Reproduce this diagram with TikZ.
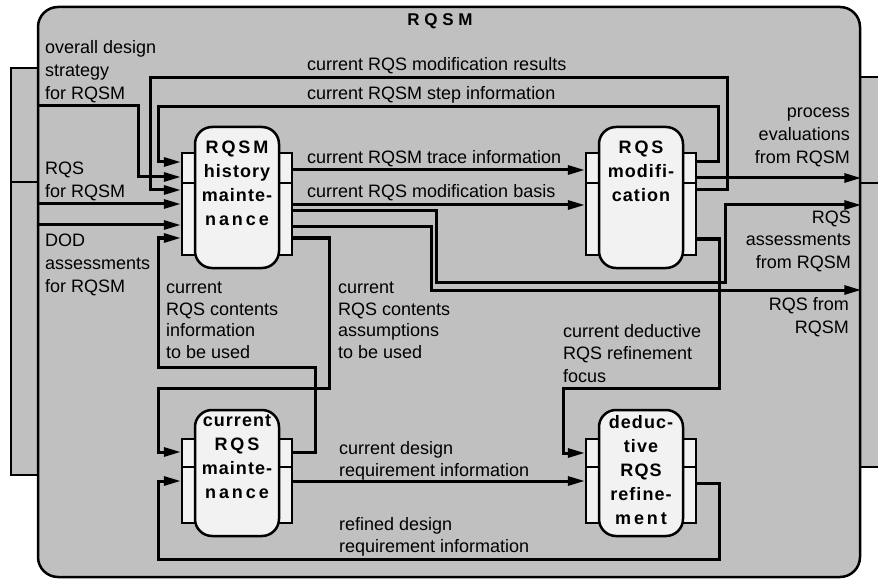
\documentclass[tikz,border=0pt]{standalone}
\usepackage{fontspec}
\setmainfont{Liberation Sans}
\newfontfamily\boxfont[LetterSpace=6]{Liberation Sans}
\usetikzlibrary{arrows.meta,positioning}
\definecolor{panel}{RGB}{192,192,192}
\definecolor{paper}{RGB}{242,242,242}
\newcommand{\spread}[1]{{\addfontfeature{LetterSpace=16}#1}}

\begin{document}
\begin{tikzpicture}[x=1pt,y=-1pt,
  flow/.style={line width=3pt,-{Triangle[length=17pt,width=9pt]}},
  frame node/.style={draw,fill=panel,line width=2.5pt,rounded corners=20pt,inner sep=0pt},
  act node/.style={draw,fill=paper,line width=2.5pt,rounded corners=17pt,minimum width=84pt,inner sep=0pt},
  tab node/.style={draw,fill=paper,line width=2.3pt,minimum width=110pt,inner sep=0pt},
  act text/.style={font=\boxfont\bfseries\fontsize{18}{24}\selectfont,align=center,inner sep=0pt},
  flow text/.style={font=\fontsize{18}{21.5}\selectfont,align=left,inner sep=0pt,anchor=base west},
  port text/.style={font=\fontsize{18}{23}\selectfont,inner sep=0pt},
  side tab/.style={draw,fill=panel,line width=2pt}]
\useasboundingbox (0,0) rectangle (878,580);

% tabs of the parent box
\draw[side tab] (11,68) rectangle (38,182);
\draw[side tab] (11,182) rectangle (38,475);
\draw[side tab] (860,77) rectangle (892,183);
\draw[side tab] (860,183) rectangle (892,467);

\node[frame node,minimum width=822pt,minimum height=570pt] (rqsm) at (449,292) {};
\node[act text,font=\boxfont\bfseries\fontsize{17}{20}\selectfont] (title) at (440,21) {\addfontfeature{LetterSpace=28}RQSM};

\begin{scope}
\node[tab node,minimum height=102pt] (hmt) at (237,204) {};
\draw[line width=2pt] (hmt.west |- 0,183) -- (hmt.east |- 0,183);
\node[act node,minimum height=141pt] (hm) at (237,197.5) {};
\node[act text,below=14.5pt of hm.north] (hm text) {\spread{RQSM}\\history\\mainte-\\\spread{nance}};

\node[tab node,minimum height=102pt] (rmt) at (641,204) {};
\draw[line width=2pt] (rmt.west |- 0,183) -- (rmt.east |- 0,183);
\node[act node,minimum height=141pt] (rm) at (641,197.5) {};
\node[act text,below=14.5pt of rm.north] (rm text) {\spread{RQS}\\modifi-\\cation};

\node[tab node,minimum height=84pt] (cmt) at (237,481) {};
\draw[line width=2pt] (cmt.west |- 0,467) -- (cmt.east |- 0,467);
\node[act node,minimum height=126pt] (cm) at (237,473) {};
\node[act text,below=6pt of cm.north] (cm text) {current\\\spread{RQS}\\mainte-\\\spread{nance}};

\node[tab node,minimum height=84pt] (drt) at (641,481) {};
\draw[line width=2pt] (drt.west |- 0,467) -- (drt.east |- 0,467);
\node[act node,minimum height=126pt] (dr) at (641,473) {};
\node[act text,below=7pt of dr.north] (dr text) {deduc-\\tive\\RQS\\refine-\\\spread{ment}};
\end{scope}

\begin{scope}
\draw[flow] (rqsm.west |- 0,106) -| (138,177) -- (hmt.west |- 0,177);
\draw[flow] (rqsm.west |- 0,204) -- (hmt.west |- 0,204);
\draw[flow] (rqsm.west |- 0,225) -- (hmt.west |- 0,225);
\draw[flow] (rmt.east |- 0,190) -| (727,78) -| (150,190) -- (hmt.west |- 0,190);
\draw[flow] (rmt.east |- 0,162) -| (718,107) -| (158,162) -- (hmt.west |- 0,162);
\draw[flow] (hmt.east |- 0,170) -- (rmt.west |- 0,170);
\draw[flow] (hmt.east |- 0,205) -- (rmt.west |- 0,205);
\draw[flow] (hmt.east |- 0,211) -| (436,282) -| (725,205) -- (rqsm.east |- 0,205);
\draw[flow] (hmt.east |- 0,227) -| (431,290) -- (rqsm.east |- 0,290);
\draw[flow] (hmt.east |- 0,238) -| (329,388) -| (158,452) -- (cmt.west |- 0,452);
\draw[flow] (cmt.east |- 0,452) -| (315,367) -| (158,238) -- (hmt.west |- 0,238);
\draw[flow] (rmt.east |- 0,178) -- (rqsm.east |- 0,178);
\draw[flow] (rmt.east |- 0,239) -| (719,388) -| (563,453) -- (drt.west |- 0,453);
\draw[flow] (cmt.east |- 0,481) -- (drt.west |- 0,481);
\draw[flow] (drt.east |- 0,483) -| (719,559) -| (158,481) -- (cmt.west |- 0,481);
\end{scope}

% flow labels (anchored on the baseline of their last line)
\node[port text,align=left,anchor=base west] (l strategy) at (45,100) {overall design\\strategy\\for RQSM};
\node[port text,align=left,anchor=base west] (l rqs in) at (45,198) {RQS\\for RQSM};
\node[port text,align=left,anchor=base west] (l dod) at (45,292) {DOD\\assessments\\for RQSM};
\node[port text,align=right,anchor=base east] (l eval) at (850,164) {process\\evaluations\\from RQSM};
\node[port text,align=right,anchor=base east] (l assess) at (851,269) {RQS\\assessments\\from RQSM};
\node[port text,align=right,anchor=base east] (l rqs out) at (849,333) {RQS from\\RQSM};
\node[flow text] (l results) at (307,71) {current RQS modification results};
\node[flow text] (l step) at (307,100) {current RQSM step information};
\node[flow text] (l trace) at (307,164) {current RQSM trace information};
\node[flow text] (l basis) at (307,198) {current RQS modification basis};
\node[flow text] (l info) at (166,358) {current\\RQS contents\\information\\to be used};
\node[flow text] (l assume) at (338,358) {current\\RQS contents\\assumptions\\to be used};
\node[flow text,font=\fontsize{18}{22.5}\selectfont] (l focus) at (563,382) {current deductive\\RQS refinement\\focus};
\node[flow text] (l design) at (339,476) {current design\\requirement information};
\node[flow text] (l refined) at (339,552) {refined design\\requirement information};
\end{tikzpicture}
\end{document}
